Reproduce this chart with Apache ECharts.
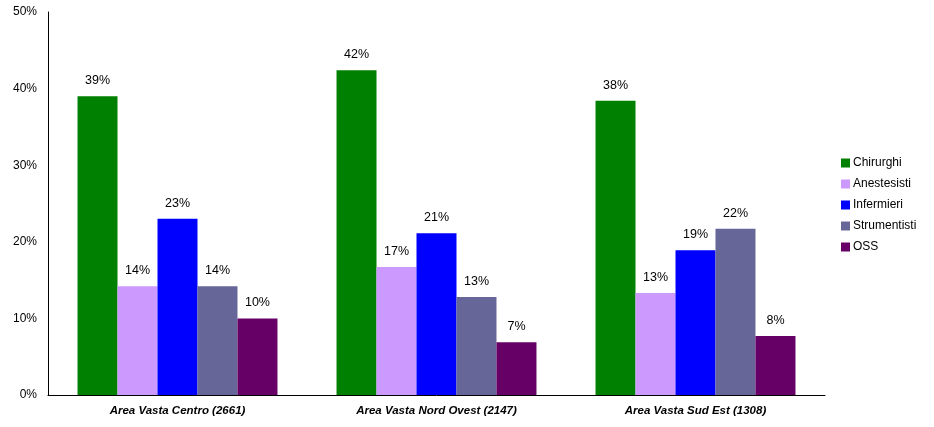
<!DOCTYPE html>
<html><head><meta charset="utf-8">
<script src="https://cdn.jsdelivr.net/npm/echarts@6/dist/echarts.min.js"></script>
<style>html,body{margin:0;padding:0;background:#fff}#c{width:934px;height:427px}</style>
</head><body><div id="c"></div>
<script>
const categories = ['Area Vasta Centro (2661)', 'Area Vasta Nord Ovest (2147)', 'Area Vasta Sud Est (1308)'];
const seriesNames = ['Chirurghi', 'Anestesisti', 'Infermieri', 'Strumentisti', 'OSS'];
const chirurghi = [39.0, 42.4, 38.4];
const anestesisti = [14.2, 16.7, 13.3];
const infermieri = [23.0, 21.1, 18.9];
const strumentisti = [14.2, 12.8, 21.7];
const oss = [10.0, 6.9, 7.7];
const yTicks = [0, 10, 20, 30, 40, 50];
const colors = ['#008000', '#CC99FF', '#0000FF', '#666699', '#660066'];
const values = [chirurghi, anestesisti, infermieri, strumentisti, oss];

const chart = echarts.init(document.getElementById('c'), null, {renderer: 'canvas'});
chart.setOption({
  animation: false,
  textStyle: {fontFamily: 'Liberation Sans, Arial, sans-serif'},
  grid: {left: 48, top: 12, right: 109, bottom: 32, containLabel: false},
  legend: {
    orient: 'vertical', left: 836, top: 152, itemWidth: 9, itemHeight: 9, itemGap: 9,
    icon: 'rect',
    textStyle: {fontSize: 12, color: '#000', padding: [0, 0, 0, -2]},
    data: seriesNames
  },
  xAxis: {
    type: 'category', data: categories,
    axisLine: {lineStyle: {color: '#000', width: 1}},
    axisTick: {show: false},
    axisLabel: {fontSize: 11.5, fontWeight: 'bold', fontStyle: 'italic', color: '#000', margin: 9.5}
  },
  yAxis: {
    type: 'value', min: yTicks[0], max: yTicks[yTicks.length - 1], interval: 10,
    axisLine: {show: true, lineStyle: {color: '#000', width: 1}},
    axisTick: {show: false},
    splitLine: {show: false},
    axisLabel: {fontSize: 12, color: '#000', margin: 11, formatter: v => v + '%'}
  },
  series: seriesNames.map((n, i) => ({
    name: n, type: 'bar', data: values[i],
    barGap: '0%', barCategoryGap: '22.8%',
    itemStyle: {color: colors[i]},
    label: {show: true, position: 'top', distance: 9, fontSize: 12.5, color: '#000',
      formatter: p => Math.round(p.value) + '%'}
  }))
});
</script></body></html>
